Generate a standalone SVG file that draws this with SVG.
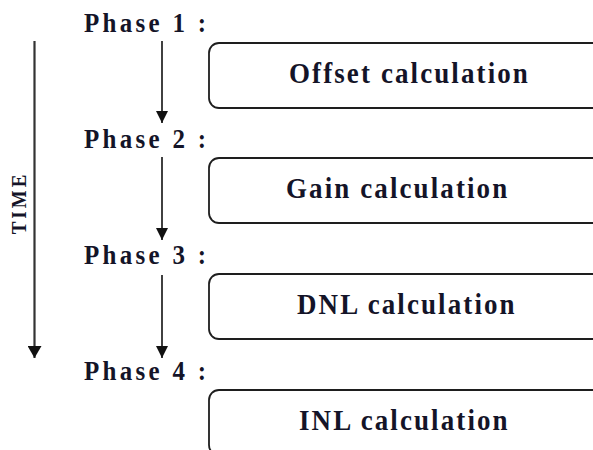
<svg xmlns="http://www.w3.org/2000/svg" width="593" height="450" viewBox="0 0 593 450">
  <defs>
    <marker id="head" viewBox="0 0 12 12" refX="12" refY="6" markerWidth="12" markerHeight="12" markerUnits="userSpaceOnUse" orient="auto">
      <path d="M0,0 L12,6 L0,12 Z" fill="#111"/>
    </marker>
    <marker id="headBig" viewBox="0 0 12 14" refX="12" refY="7" markerWidth="12" markerHeight="14" markerUnits="userSpaceOnUse" orient="auto">
      <path d="M0,0 L12,7 L0,14 Z" fill="#111"/>
    </marker>
  </defs>
  <style>
    text { font-family: "Liberation Serif", "Times New Roman", serif; font-weight: bold; fill: #141428; }
    .phase { font-size: 25px; letter-spacing: 3.3px; }
    .label { font-size: 27px; letter-spacing: 2.1px; }
    .time { font-size: 19px; letter-spacing: 3px; }
    .box { fill: #fff; stroke: #1e1e1e; stroke-width: 1.8; }
    .flow { stroke: #111; stroke-width: 1.6; fill: none; }
  </style>
  <rect width="593" height="450" fill="#fff"/>

  <!-- time axis -->
  <g id="time-axis">
    <line x1="34.5" y1="41" x2="34.5" y2="358" stroke="#333" stroke-width="2.2" marker-end="url(#headBig)"/>
    <text class="time" transform="translate(26,203) rotate(-90) scale(1,1.1)" text-anchor="middle">TIME</text>
  </g>

  <!-- phase steps -->
  <g id="connectors">
    <line class="flow" x1="162" y1="41" x2="162" y2="123" marker-end="url(#head)"/>
    <line class="flow" x1="162" y1="157" x2="162" y2="240" marker-end="url(#head)"/>
    <line class="flow" x1="162" y1="275" x2="162" y2="358" marker-end="url(#head)"/>
  </g>

  <!-- headings are drawn slightly tall: scale(1,1.12) about the baseline -->
  <g id="phase1">
    <text class="phase" transform="translate(84,32) scale(1,1.12)">Phase 1 :</text>
  </g>
  <g id="phase2">
    <text class="phase" transform="translate(84,148) scale(1,1.12)">Phase 2 :</text>
  </g>
  <g id="phase3">
    <text class="phase" transform="translate(84,264) scale(1,1.12)">Phase 3 :</text>
  </g>
  <g id="phase4">
    <text class="phase" transform="translate(84,380) scale(1,1.12)">Phase 4 :</text>
  </g>

  <g id="offset">
    <rect class="box" x="209" y="43" width="420" height="65" rx="10"/>
    <text class="label" transform="translate(289,83) scale(1,1.12)">Offset calculation</text>
  </g>
  <g id="gain">
    <rect class="box" x="209" y="158" width="420" height="65" rx="10"/>
    <text class="label" transform="translate(286,198) scale(1,1.12)">Gain calculation</text>
  </g>
  <g id="dnl">
    <rect class="box" x="209" y="274" width="420" height="65" rx="10"/>
    <text class="label" transform="translate(297,314) scale(1,1.12)">DNL calculation</text>
  </g>
  <g id="inl">
    <rect class="box" x="209" y="390" width="420" height="65" rx="10"/>
    <text class="label" transform="translate(299,430) scale(1,1.12)">INL calculation</text>
  </g>
</svg>
